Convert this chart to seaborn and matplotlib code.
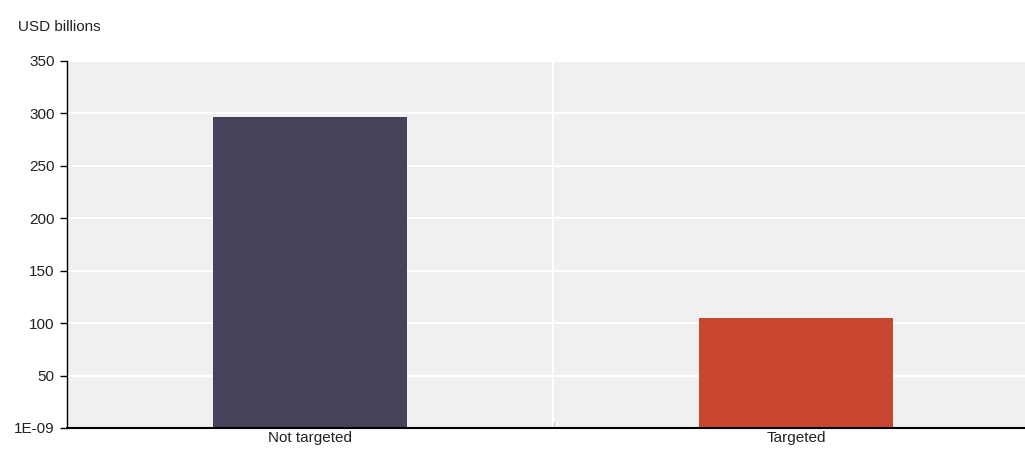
import matplotlib
matplotlib.use("Agg")
import matplotlib.pyplot as plt
import pandas as pd
import seaborn as sns

categories = ["Not targeted", "Targeted"]
values = [296.5, 104.5]
colors = ["#46425C", "#C84630"]
y_ticks = [0, 50, 100, 150, 200, 250, 300, 350]
y_tick_labels = ["1E-09", "50", "100", "150", "200", "250", "300", "350"]

sns.set_style("white")
plt.rcParams["font.family"] = ["Liberation Sans", "DejaVu Sans"]

df = pd.DataFrame({"category": categories, "value": values})

fig = plt.figure(figsize=(10.25, 4.5), dpi=100)
ax = fig.add_axes([0.0654, 0.049, 0.9346, 0.8155])
ax.set_facecolor("#F0F0F0")

sns.barplot(data=df, x="category", y="value", hue="category",
            palette=colors, width=0.4, saturation=1, legend=False, ax=ax,
            edgecolor="none", linewidth=0, zorder=3)

ax.set_ylim(0, 350)
ax.set_xlim(-0.5, 1.471)
ax.set_yticks(y_ticks)
ax.set_yticklabels(y_tick_labels, fontsize=11, color="#222222")
ax.tick_params(axis="y", left=True, length=5, width=1, direction="out", color="black", pad=4)
ax.tick_params(axis="x", which="major", length=0, labelsize=11, labelcolor="#222222", pad=2)
ax.set_xticks([0.5], minor=True)
ax.tick_params(axis="x", which="minor", bottom=True, length=4, direction="in", color="black", width=1)
ax.set_xlabel("")
ax.set_ylabel("")

ax.grid(axis="y", color="white", linewidth=1.5, zorder=1)
ax.axvline(0.5, color="white", linewidth=1.5, zorder=1)

for side in ["top", "right"]:
    ax.spines[side].set_visible(False)
ax.spines["left"].set_color("black")
ax.spines["left"].set_linewidth(1)
ax.spines["bottom"].set_color("black")
ax.spines["bottom"].set_linewidth(1.5)
ax.spines["bottom"].set_zorder(4)

fig.text(0.0176, 0.94, "USD billions", fontsize=11, color="#222222", va="center", ha="left")

fig.savefig("out.png", dpi=100)
